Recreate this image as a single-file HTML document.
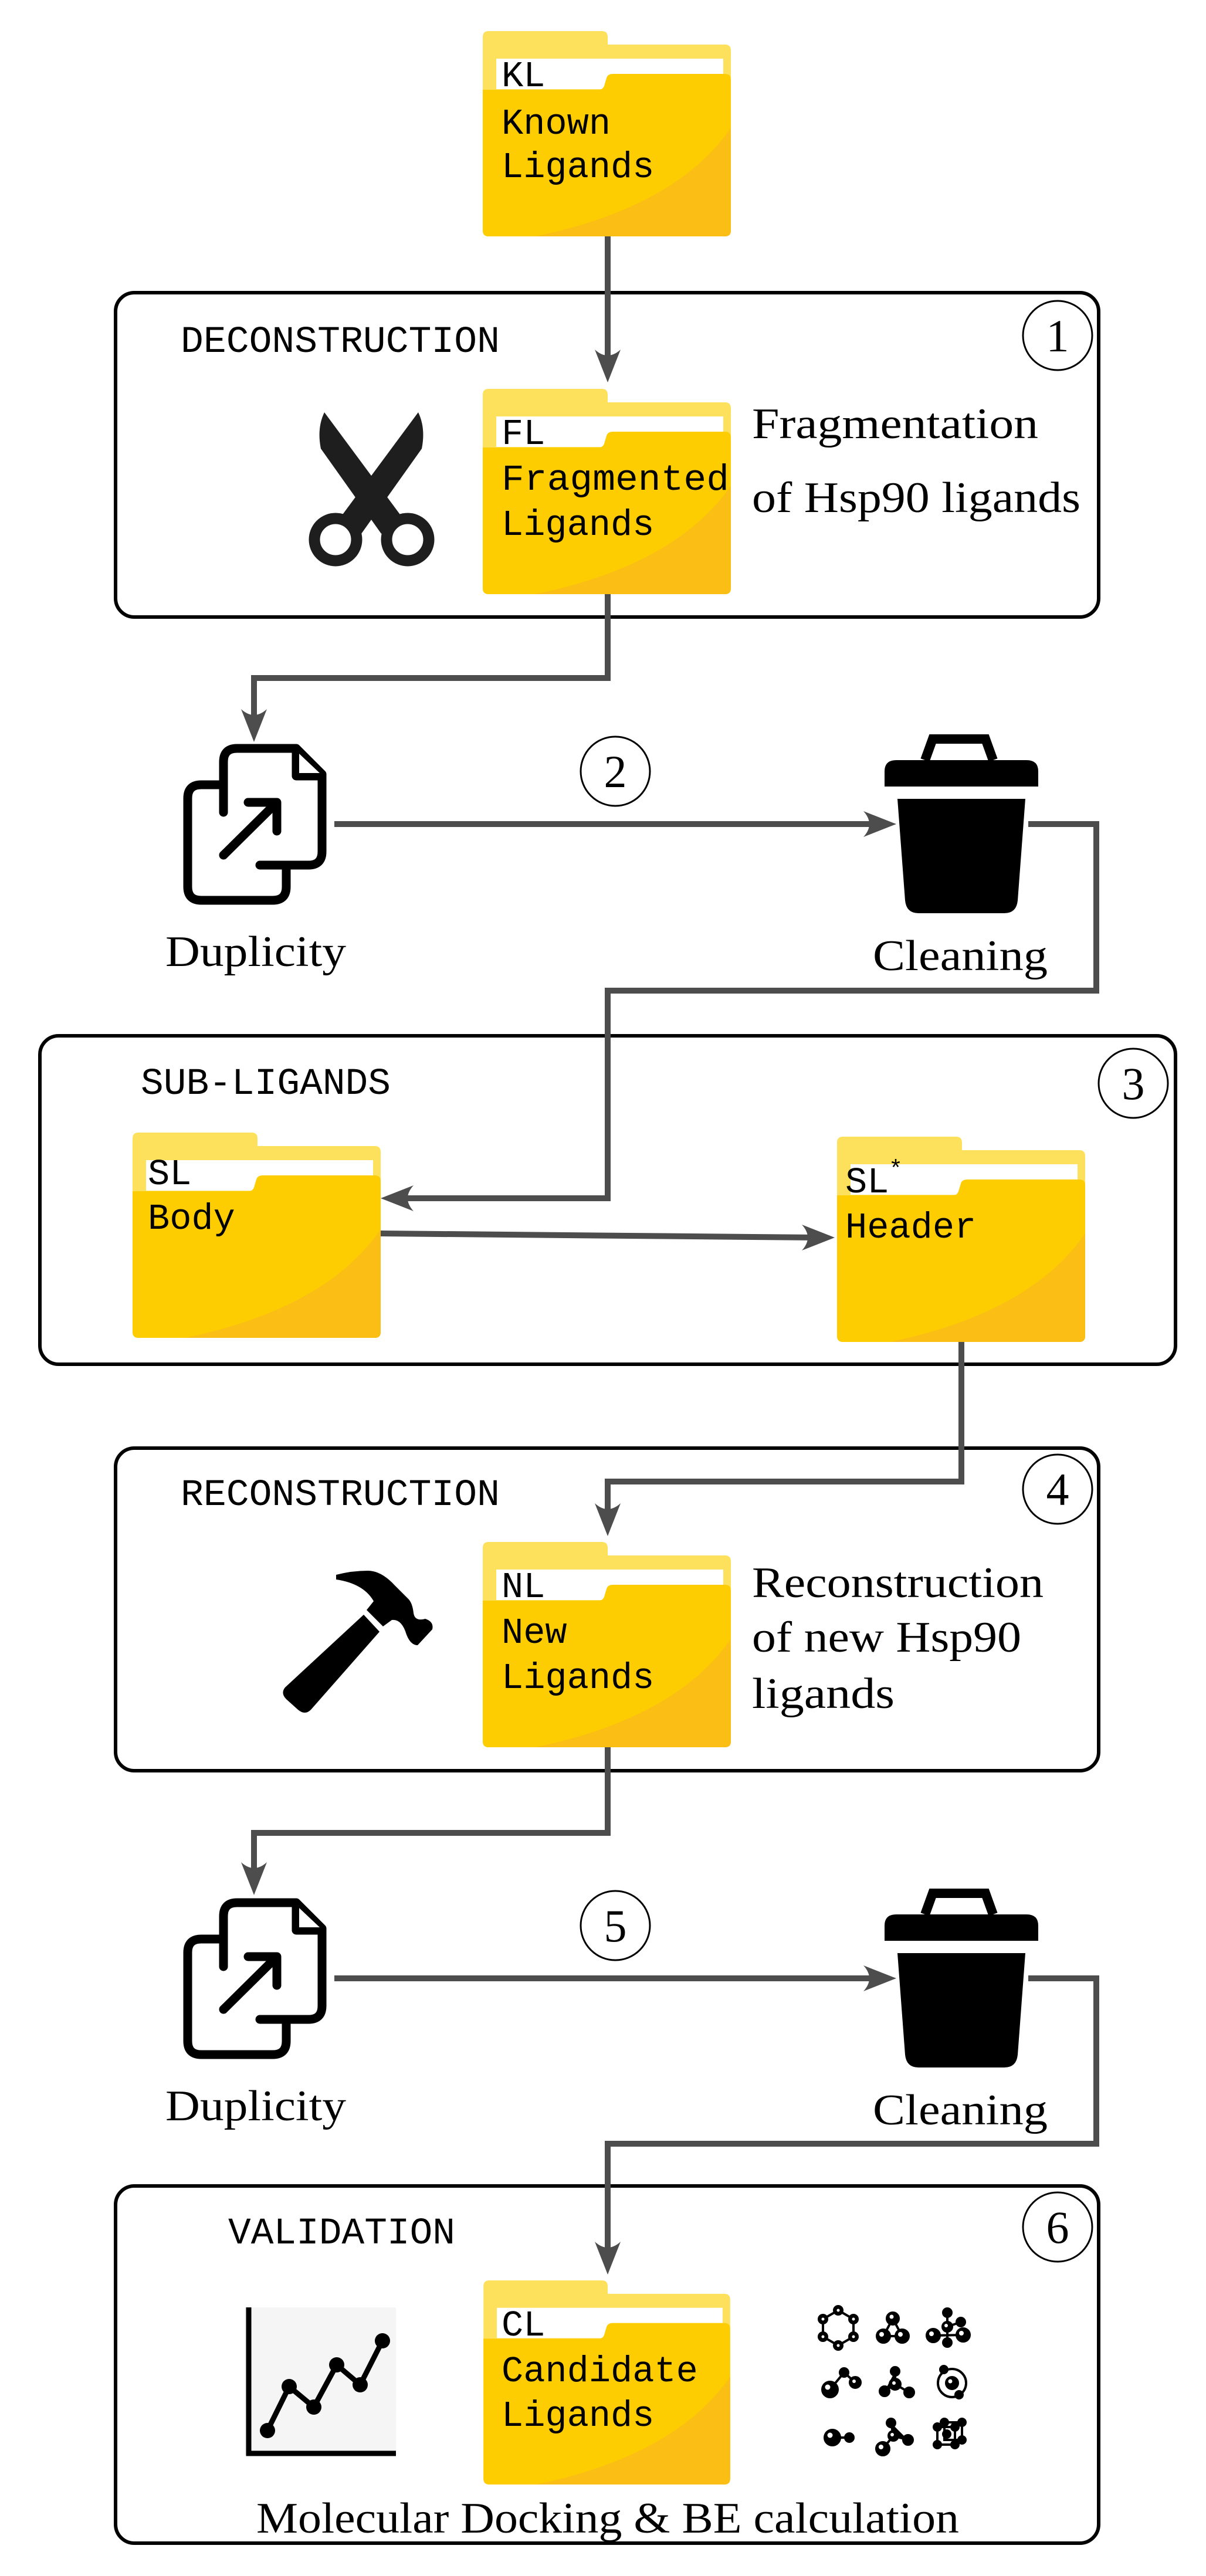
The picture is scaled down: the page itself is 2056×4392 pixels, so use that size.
<!DOCTYPE html>
<html><head><meta charset="utf-8"><style>
html,body{margin:0;padding:0;background:#fff}
svg{display:block}
.mono{font-family:"Liberation Mono",monospace;fill:#000}
.ser{font-family:"Liberation Serif",serif;fill:#000}
.ln{fill:none;stroke:#4d4d4d;stroke-width:10}
.box{fill:none;stroke:#000;stroke-width:6}
.cir{fill:none;stroke:#000;stroke-width:3}
</style></head><body>
<svg width="2056" height="4392" viewBox="0 0 2056 4392" xmlns="http://www.w3.org/2000/svg">
<defs>
<symbol id="folder" viewBox="0 0 423 350">
<path d="M10,0 H203 Q213,0 213,10 V23 H413 Q423,23 423,33 V340 Q423,350 413,350 H10 Q0,350 0,340 V10 Q0,0 10,0 Z" fill="#fde15c"/>
<rect x="23" y="47" width="387" height="52" fill="#fff"/>
<path d="M0,100 H198 Q206,100 208,90 L211,80 Q213,73 222,73 H413 Q423,73 423,83 V340 Q423,350 413,350 H10 Q0,350 0,340 Z" fill="#fdcd02"/>
<path d="M423,165 Q330,300 90,350 H413 Q423,350 423,340 Z" fill="#fbbe14"/>
</symbol>
<symbol id="dup" viewBox="300 1250 280 310">
<g fill="none" stroke="#000" stroke-width="15" stroke-linecap="round" stroke-linejoin="round">
<path d="M381,1385 V1299 Q381,1276 404,1276 H505 L549,1320 V1452 Q549,1475 526,1475 H443"/>
<path d="M505,1280 V1323 H547"/>
<path d="M381,1338 H343 Q320,1338 320,1361 V1512 Q320,1535 343,1535 H465 Q488,1535 488,1512 V1478"/>
<path d="M381,1458 L472,1368 M423,1368 H472 V1417"/>
</g>
<path d="M510,1285 L545,1318 H510 Z" fill="#fff"/>
</symbol>
<symbol id="trash" viewBox="1500 1250 280 310">
<path d="M1577,1296 L1590,1260 H1680 L1693,1296" fill="none" stroke="#000" stroke-width="16"/>
<path d="M1508,1341 V1315 Q1508,1296 1528,1296 H1750 Q1770,1296 1770,1315 V1341 Z" fill="#000"/>
<path d="M1530,1362 H1748 L1735,1535 Q1733,1557 1712,1557 H1566 Q1545,1557 1543,1535 Z" fill="#000"/>
</symbol>
<g id="ah"><path d="M0,0 L-56,-22 Q-36,0 -56,22 Z" fill="#4d4d4d"/></g>
</defs>

<rect class="box" x="197" y="499" width="1676" height="553" rx="32"/>
<rect class="box" x="68" y="1766" width="1936" height="560" rx="32"/>
<rect class="box" x="197" y="2469" width="1676" height="550" rx="32"/>
<rect class="box" x="197" y="3727" width="1676" height="609" rx="32"/>

<path class="ln" d="M1036,403 V620"/>
<use href="#ah" transform="translate(1036,652) rotate(90)"/>
<path class="ln" d="M1036,1012 V1156 H433 V1235"/>
<use href="#ah" transform="translate(433,1265) rotate(90)"/>
<path class="ln" d="M570,1405 H1500"/>
<use href="#ah" transform="translate(1528,1405)"/>
<path class="ln" d="M1753,1405 H1869 V1689 H1036 V2043 H680"/>
<use href="#ah" transform="translate(649,2043) rotate(180)"/>
<path class="ln" d="M649,2103 L1395,2110"/>
<use href="#ah" transform="translate(1423,2110)"/>
<path class="ln" d="M1639,2286 V2526 H1036 V2590"/>
<use href="#ah" transform="translate(1036,2619) rotate(90)"/>
<path class="ln" d="M1036,2979 V3125 H433 V3200"/>
<use href="#ah" transform="translate(433,3231) rotate(90)"/>
<path class="ln" d="M570,3373 H1500"/>
<use href="#ah" transform="translate(1528,3373)"/>
<path class="ln" d="M1753,3373 H1869 V3655 H1036 V3850"/>
<use href="#ah" transform="translate(1036,3878) rotate(90)"/>

<use href="#folder" x="823" y="53" width="423" height="350"/>
<text class="mono" font-size="62"><tspan x="855" y="147">KL</tspan><tspan x="855" y="228">Known</tspan><tspan x="855" y="302">Ligands</tspan></text>
<use href="#folder" x="823" y="663" width="423" height="350"/>
<text class="mono" font-size="62"><tspan x="855" y="757">FL</tspan><tspan x="855" y="835" textLength="388" lengthAdjust="spacingAndGlyphs">Fragmented</tspan><tspan x="855" y="912">Ligands</tspan></text>
<use href="#folder" x="226" y="1931" width="423" height="350"/>
<text class="mono" font-size="62"><tspan x="252" y="2019">SL</tspan><tspan x="252" y="2095">Body</tspan></text>
<use href="#folder" x="1427" y="1938" width="423" height="350"/>
<text class="mono" font-size="62"><tspan x="1441" y="2033">SL</tspan><tspan x="1515" y="2005" font-size="40">*</tspan><tspan x="1441" y="2110">Header</tspan></text>
<use href="#folder" x="823" y="2629" width="423" height="350"/>
<text class="mono" font-size="62"><tspan x="855" y="2723">NL</tspan><tspan x="855" y="2801">New</tspan><tspan x="855" y="2878">Ligands</tspan></text>
<use href="#folder" x="823" y="3888" width="423" height="348"/>
<text class="mono" font-size="62"><tspan x="855" y="3982">CL</tspan><tspan x="855" y="4060">Candidate</tspan><tspan x="855" y="4136">Ligands</tspan></text>

<text class="mono" font-size="64" x="308" y="600" textLength="544" lengthAdjust="spacingAndGlyphs">DECONSTRUCTION</text>
<text class="mono" font-size="64" x="240" y="1865" textLength="426" lengthAdjust="spacingAndGlyphs">SUB-LIGANDS</text>
<text class="mono" font-size="64" x="308" y="2566" textLength="544" lengthAdjust="spacingAndGlyphs">RECONSTRUCTION</text>
<text class="mono" font-size="64" x="389" y="3825" textLength="387" lengthAdjust="spacingAndGlyphs">VALIDATION</text>

<g class="ser" font-size="78" text-anchor="middle">
<circle class="cir" cx="1803" cy="572" r="59"/><text x="1803" y="599">1</text>
<circle class="cir" cx="1049" cy="1315" r="59"/><text x="1049" y="1342">2</text>
<circle class="cir" cx="1932" cy="1847" r="59"/><text x="1932" y="1874">3</text>
<circle class="cir" cx="1803" cy="2539" r="59"/><text x="1803" y="2566">4</text>
<circle class="cir" cx="1049" cy="3283" r="59"/><text x="1049" y="3310">5</text>
<circle class="cir" cx="1803" cy="3797" r="59"/><text x="1803" y="3824">6</text>
</g>

<g class="ser" font-size="74">
<text x="1282" y="747" textLength="488" lengthAdjust="spacingAndGlyphs">Fragmentation</text>
<text x="1282" y="873" textLength="560" lengthAdjust="spacingAndGlyphs">of Hsp90 ligands</text>
<text x="282" y="1647" textLength="308" lengthAdjust="spacingAndGlyphs">Duplicity</text>
<text x="1488" y="1654" textLength="298" lengthAdjust="spacingAndGlyphs">Cleaning</text>
<text x="1282" y="2723" textLength="497" lengthAdjust="spacingAndGlyphs">Reconstruction</text>
<text x="1282" y="2816" textLength="459" lengthAdjust="spacingAndGlyphs">of new Hsp90</text>
<text x="1282" y="2912" textLength="243" lengthAdjust="spacingAndGlyphs">ligands</text>
<text x="282" y="3615" textLength="308" lengthAdjust="spacingAndGlyphs">Duplicity</text>
<text x="1488" y="3622" textLength="298" lengthAdjust="spacingAndGlyphs">Cleaning</text>
<text x="437" y="4318" textLength="1198" lengthAdjust="spacingAndGlyphs">Molecular Docking &amp; BE calculation</text>
</g>

<use href="#dup" x="300" y="1250" width="280" height="310"/>
<use href="#dup" x="300" y="3218" width="280" height="310"/>
<use href="#trash" x="1500" y="1250" width="280" height="310"/>
<use href="#trash" x="1500" y="3218" width="280" height="310"/>

<g fill="#1e1e1e">
<path d="M553,703 Q540,730 547,765 L650,910 L690,888 Z"/>
<path d="M713,703 Q726,730 719,765 L616,910 L576,888 Z"/>
<circle cx="572" cy="920" r="36" fill="none" stroke="#1e1e1e" stroke-width="19"/>
<circle cx="695" cy="920" r="36" fill="none" stroke="#1e1e1e" stroke-width="19"/>
</g>

<g fill="#000">
<path d="M620,2753 L647,2782 L530,2915 Q520,2925 508,2915 L488,2897 Q478,2887 486,2877 Z"/>
<path d="M573,2685 L573,2693 Q620,2700 637,2730 L625,2745 L653,2773 L668,2762 Q685,2760 693,2787 Q700,2805 712,2805 L737,2778 Q740,2765 725,2760 Q707,2765 705,2750 Q703,2732 695,2725 L673,2703 Q650,2678 627,2678 Q600,2678 573,2685 Z"/>
</g>

<rect x="417" y="3934" width="258" height="252" fill="#f5f5f5"/>
<path d="M424,3934 V4183 H675" fill="none" stroke="#000" stroke-width="9"/>
<polyline points="456,4144 493,4069 535,4104 574,4032 614,4066 652,3991" fill="none" stroke="#000" stroke-width="9"/>
<g fill="#000">
<circle cx="456" cy="4144" r="13"/><circle cx="493" cy="4069" r="13"/><circle cx="535" cy="4104" r="13"/>
<circle cx="574" cy="4032" r="13"/><circle cx="614" cy="4066" r="13"/><circle cx="652" cy="3991" r="13"/>
</g>

<g stroke="#000" stroke-width="4" fill="#000">
<polygon points="1429,3939 1455,3954 1455,3984 1429,3999 1403,3984 1403,3954" fill="none"/>
<circle cx="1429" cy="3939" r="7"/><circle cx="1455" cy="3954" r="7"/><circle cx="1455" cy="3984" r="7"/><circle cx="1429" cy="3999" r="7"/><circle cx="1403" cy="3984" r="7"/><circle cx="1403" cy="3954" r="7"/>
<polygon points="1522,3953 1506,3983 1538,3983" fill="none"/>
<circle cx="1522" cy="3953" r="10"/><circle cx="1506" cy="3983" r="11"/><circle cx="1538" cy="3983" r="11"/>
<path d="M1615,3943 V3994 M1591,3982 L1642,3981 M1615,3967 L1638,3959"/>
<circle cx="1615" cy="3967" r="8"/><circle cx="1615" cy="3943" r="7"/><circle cx="1638" cy="3959" r="7"/><circle cx="1591" cy="3982" r="11"/><circle cx="1642" cy="3981" r="11"/><circle cx="1615" cy="3994" r="7"/>
<polyline points="1415,4074 1439,4045 1458,4062" fill="none"/>
<circle cx="1415" cy="4074" r="13"/><circle cx="1439" cy="4045" r="7"/><circle cx="1458" cy="4062" r="9"/>
<path d="M1526,4043 V4065 L1508,4077 M1526,4065 L1550,4079"/>
<circle cx="1526" cy="4065" r="9"/><circle cx="1526" cy="4043" r="7"/><circle cx="1508" cy="4077" r="8"/><circle cx="1550" cy="4079" r="8"/>
<circle cx="1623" cy="4063" r="24" fill="none"/>
<circle cx="1623" cy="4063" r="10"/><circle cx="1609" cy="4040" r="6"/><circle cx="1635" cy="4083" r="6"/>
<path d="M1419,4156 H1448"/>
<circle cx="1419" cy="4156" r="13"/><circle cx="1448" cy="4156" r="7"/>
<path d="M1519,4131 L1523,4153 L1548,4160 M1523,4153 L1505,4175"/>
<circle cx="1523" cy="4153" r="8"/><circle cx="1519" cy="4131" r="7"/><circle cx="1548" cy="4160" r="8"/><circle cx="1505" cy="4175" r="11"/>
<rect x="1598" y="4138" width="30" height="30" fill="none"/><rect x="1610" y="4130" width="30" height="30" fill="none"/>
<circle cx="1598" cy="4138" r="6"/><circle cx="1628" cy="4138" r="6"/><circle cx="1598" cy="4168" r="6"/><circle cx="1628" cy="4168" r="6"/>
<circle cx="1610" cy="4130" r="6"/><circle cx="1640" cy="4130" r="6"/><circle cx="1640" cy="4160" r="6"/><circle cx="1614" cy="4150" r="6"/>
</g>
<g fill="#fff">
<circle cx="1429" cy="3939" r="2.5"/><circle cx="1455" cy="3954" r="2.5"/><circle cx="1455" cy="3984" r="2.5"/><circle cx="1429" cy="3999" r="2.5"/><circle cx="1403" cy="3984" r="2.5"/><circle cx="1403" cy="3954" r="2.5"/>
<circle cx="1520" cy="3950" r="3.5"/><circle cx="1503" cy="3980" r="4"/><circle cx="1535" cy="3980" r="4"/>
<circle cx="1613" cy="3965" r="3"/><circle cx="1588" cy="3979" r="4"/><circle cx="1639" cy="3978" r="4"/>
<circle cx="1411" cy="4070" r="4.5"/><circle cx="1456" cy="4060" r="3"/>
<circle cx="1524" cy="4063" r="3"/><circle cx="1620" cy="4060" r="3.5"/>
<circle cx="1415" cy="4152" r="4.5"/><circle cx="1502" cy="4172" r="4"/><circle cx="1521" cy="4151" r="3"/>
</g>
</svg>
</body></html>
